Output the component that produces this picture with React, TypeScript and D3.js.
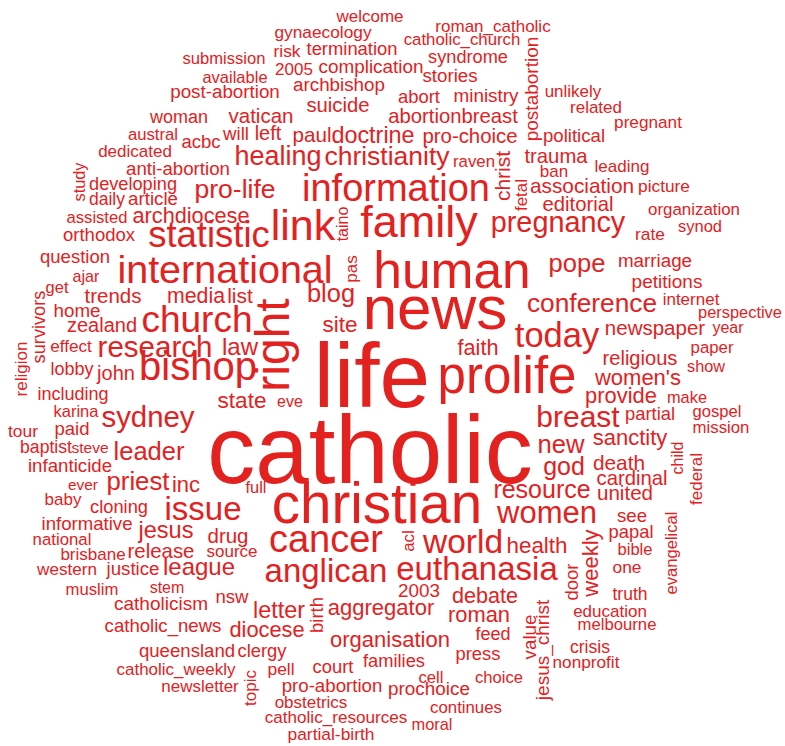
import React from "react";
import * as d3 from "d3";

// word frequencies (relative weight)
const words: [string, number][] = [
  ["welcome", 17], ["roman_catholic", 17], ["gynaecology", 17.3], ["catholic_church", 16.8], ["risk", 17.4],
  ["termination", 18.4], ["submission", 16.6], ["syndrome", 18.2], ["2005", 17], ["complication", 18.9],
  ["available", 16.5], ["stories", 18.7], ["post-abortion", 18.8], ["archbishop", 18.8], ["postabortion", 19],
  ["abort", 18.4], ["ministry", 18.9], ["unlikely", 17], ["suicide", 20.3], ["woman", 18],
  ["vatican", 20.5], ["abortionbreast", 20.3], ["related", 17], ["pregnant", 17.2], ["austral", 16.7],
  ["will", 18.7], ["left", 20], ["acbc", 18.5], ["paul", 20.6], ["doctrine", 23.4],
  ["pro-choice", 20.4], ["political", 18.6], ["dedicated", 17], ["healing", 27], ["christianity", 26.5],
  ["raven", 16.8], ["christ", 21], ["trauma", 20.3], ["leading", 17], ["ban", 17],
  ["anti-abortion", 18.7], ["fetal", 17], ["study", 16.3], ["developing", 18.2], ["pro-life", 26.5],
  ["information", 38], ["association", 20.8], ["picture", 17.3], ["daily", 17.5], ["article", 18.7],
  ["editorial", 20.3], ["organization", 16.9], ["assisted", 16.6], ["archdiocese", 21.7], ["taino", 16],
  ["link", 43], ["family", 45], ["pregnancy", 28.8], ["synod", 16.5], ["rate", 17.4],
  ["orthodox", 18.5], ["statistic", 36.5], ["question", 18.5], ["international", 39.5], ["pas", 17],
  ["human", 51.5], ["pope", 25.6], ["marriage", 18.8], ["ajar", 16.2], ["petitions", 19],
  ["get", 16.5], ["trends", 20.5], ["media", 21.3], ["list", 21], ["blog", 25.4],
  ["internet", 17], ["conference", 26.3], ["survivors", 18.2], ["home", 18.8], ["perspective", 16.4],
  ["right", 48], ["news", 62], ["zealand", 20], ["church", 37], ["site", 22.5],
  ["newspaper", 20.5], ["year", 16], ["today", 34.5], ["effect", 17.2], ["research", 29.5],
  ["law", 24], ["faith", 21.7], ["paper", 16.8], ["religion", 17], ["religious", 20.1],
  ["show", 16.3], ["lobby", 18], ["john", 20], ["bishop", 40], ["women's", 22],
  ["prolife", 51], ["including", 18], ["life", 91], ["eve", 16], ["state", 22.6],
  ["provide", 21.9], ["make", 16.4], ["karina", 16.5], ["partial", 18.4], ["gospel", 16.6],
  ["breast", 30], ["sydney", 29.4], ["tour", 17.4], ["paid", 18.5], ["mission", 16.8],
  ["sanctity", 22], ["baptist", 17.6], ["steve", 15.5], ["new", 25.6], ["child", 16],
  ["leader", 25.5], ["infanticide", 18.7], ["death", 20.8], ["god", 25], ["catholic", 96],
  ["federal", 17], ["cardinal", 20.3], ["ever", 15.4], ["priest", 25.8], ["inc", 22],
  ["full", 16.4], ["resource", 25], ["united", 20.6], ["baby", 17], ["cloning", 18.3],
  ["issue", 33], ["see", 18.6], ["christian", 56.5], ["women", 31], ["informative", 18.6],
  ["jesus", 23.6], ["papal", 18.4], ["acl", 17], ["national", 16.8], ["drug", 20.5],
  ["cancer", 38], ["world", 33.5], ["health", 22.4], ["evangelical", 16.6], ["bible", 16.6],
  ["weekly", 22], ["brisbane", 17], ["release", 20.4], ["source", 17], ["one", 17.4],
  ["western", 17.1], ["justice", 18.7], ["league", 24], ["anglican", 33], ["euthanasia", 33],
  ["door", 18.5], ["muslim", 16.7], ["stem", 16], ["2003", 18.9], ["truth", 17.5],
  ["nsw", 18.6], ["debate", 21.6], ["catholicism", 19], ["birth", 18.5], ["aggregator", 22],
  ["letter", 23.4], ["roman", 21.9], ["education", 17], ["value", 18.8], ["catholic_news", 18.6],
  ["melbourne", 16.7], ["diocese", 21.8], ["feed", 18], ["organisation", 22], ["jesus_christ", 19],
  ["crisis", 17.6], ["queensland", 18.6], ["clergy", 18.4], ["press", 18.4], ["families", 18.3],
  ["nonprofit", 17.2], ["pell", 17.4], ["court", 18.4], ["catholic_weekly", 17], ["cell", 16.7],
  ["choice", 16.6], ["topic", 17], ["newsletter", 17], ["pro-abortion", 18.7], ["prochoice", 18.9],
  ["obstetrics", 17], ["continues", 16.8], ["catholic_resources", 17.1], ["moral", 16.4], ["partial-birth", 17.4],
];

// cloud layout: [anchor x, anchor y, vertical?] in reference layout units
const placements: Record<string, [number, number, number]> = {
  welcome: [370, 22, 0], roman_catholic: [493, 32, 0], gynaecology: [323, 38, 0], catholic_church: [462, 45, 0],
  risk: [287, 57, 0], termination: [352, 55, 0], submission: [224, 64, 0], syndrome: [468, 63, 0],
  "2005": [294, 75, 0], complication: [371, 73, 0], available: [235, 83, 0], stories: [450, 82, 0],
  "post-abortion": [225, 98, 0], archbishop: [339, 91, 0], postabortion: [538, 89, 1], abort: [419, 103, 0],
  ministry: [486, 102, 0], unlikely: [573, 97, 0], suicide: [338, 112, 0], woman: [179, 123, 0],
  vatican: [261, 123, 0], abortionbreast: [453, 123, 0], related: [596, 113, 0], pregnant: [648, 128, 0],
  austral: [153, 140, 0], will: [236, 140, 0], left: [268, 140, 0], acbc: [201, 148, 0],
  paul: [312, 142, 0], doctrine: [373, 143, 0], "pro-choice": [470, 143, 0], political: [574, 142, 0],
  dedicated: [135, 157, 0], healing: [278, 165, 0], christianity: [387, 165, 0], raven: [474, 167, 0],
  christ: [510, 176, 1], trauma: [556, 163, 0], leading: [622, 172, 0], ban: [554, 177, 0],
  "anti-abortion": [178, 175, 0], fetal: [527, 195, 1], study: [85, 182, 1], developing: [133, 190, 0],
  "pro-life": [235, 198, 0], information: [396, 201, 0], association: [582, 193, 0], picture: [664, 192, 0],
  daily: [107, 205, 0], article: [153, 205, 0], editorial: [578, 211, 0], organization: [694, 215, 0],
  assisted: [97, 223, 0], archdiocese: [191, 223, 0], taino: [348, 224, 1], link: [303, 240, 0],
  family: [419, 237, 0], pregnancy: [558, 232, 0], synod: [700, 232, 0], rate: [650, 240, 0],
  orthodox: [99, 241, 0], statistic: [209, 247, 0], question: [75, 263, 0], international: [225, 283, 0],
  pas: [357, 269, 1], human: [452, 288, 0], pope: [577, 272, 0], marriage: [655, 267, 0],
  ajar: [86, 282, 0], petitions: [667, 288, 0], get: [57, 293, 0], trends: [113, 303, 0],
  media: [196, 303, 0], list: [240, 303, 0], blog: [331, 302, 0], internet: [691, 305, 0],
  conference: [592, 312, 0], survivors: [45, 327, 1], home: [77, 317, 0], perspective: [740, 318, 0],
  right: [289, 345, 1], news: [435, 329, 0], zealand: [102, 332, 0], church: [197, 332, 0],
  site: [340, 332, 0], newspaper: [655, 335, 0], year: [728, 333, 0], today: [557, 347, 0],
  effect: [71, 352, 0], research: [155, 357, 0], law: [240, 355, 0], faith: [478, 355, 0],
  paper: [712, 353, 0], religion: [27, 369, 1], religious: [640, 365, 0], show: [706, 372, 0],
  lobby: [72, 375, 0], john: [116, 380, 0], bishop: [198, 380, 0], "women's": [638, 385, 0],
  prolife: [507, 393, 0], including: [73, 400, 0], life: [372, 407, 0], eve: [290, 407, 0],
  state: [242, 408, 0], provide: [621, 403, 0], make: [687, 403, 0], karina: [76, 417, 0],
  partial: [650, 420, 0], gospel: [717, 417, 0], breast: [578, 427, 0], sydney: [148, 427, 0],
  tour: [23, 437, 0], paid: [72, 435, 0], mission: [721, 433, 0], sanctity: [630, 445, 0],
  baptist: [46, 453, 0], steve: [90, 453, 0], new: [561, 453, 0], child: [683, 458, 1],
  leader: [149, 460, 0], infanticide: [70, 472, 0], death: [619, 470, 0], god: [564, 475, 0],
  catholic: [370, 483, 0], federal: [702, 479, 1], cardinal: [632, 485, 0], ever: [83, 490, 0],
  priest: [138, 490, 0], inc: [186, 492, 0], full: [256, 493, 0], resource: [542, 498, 0],
  united: [625, 500, 0], baby: [63, 505, 0], cloning: [119, 513, 0], issue: [203, 520, 0],
  see: [632, 522, 0], christian: [377, 523, 0], women: [547, 523, 0], informative: [87, 530, 0],
  jesus: [166, 538, 0], papal: [631, 538, 0], acl: [414, 541, 1], national: [62, 545, 0],
  drug: [228, 543, 0], cancer: [326, 552, 0], world: [463, 553, 0], health: [537, 553, 0],
  evangelical: [677, 553, 1], bible: [635, 555, 0], weekly: [598, 563, 1], brisbane: [93, 560, 0],
  release: [161, 558, 0], source: [232, 557, 0], one: [627, 573, 0], western: [67, 575, 0],
  justice: [133, 575, 0], league: [199, 575, 0], anglican: [326, 582, 0], euthanasia: [477, 580, 0],
  door: [578, 582, 1], muslim: [92, 595, 0], stem: [167, 593, 0], "2003": [419, 597, 0],
  truth: [630, 600, 0], nsw: [232, 603, 0], debate: [485, 603, 0], catholicism: [161, 610, 0],
  birth: [323, 615, 1], aggregator: [381, 615, 0], letter: [279, 618, 0], roman: [479, 622, 0],
  education: [610, 617, 0], value: [536, 637, 1], catholic_news: [163, 632, 0], melbourne: [617, 630, 0],
  diocese: [267, 637, 0], feed: [493, 640, 0], organisation: [390, 647, 0], jesus_christ: [549, 650, 1],
  crisis: [590, 653, 0], queensland: [187, 657, 0], clergy: [262, 657, 0], press: [478, 660, 0],
  families: [394, 667, 0], nonprofit: [586, 668, 0], pell: [281, 675, 0], court: [333, 673, 0],
  catholic_weekly: [176, 675, 0], cell: [431, 683, 0], choice: [499, 683, 0], topic: [256, 688, 1],
  newsletter: [200, 692, 0], "pro-abortion": [332, 692, 0], prochoice: [429, 695, 0], obstetrics: [311, 708, 0],
  continues: [466, 713, 0], catholic_resources: [336, 723, 0], moral: [432, 730, 0], "partial-birth": [331, 740, 0],
};

const WIDTH = 785;
const HEIGHT = 746;
const COLOR = "#e3211e";

export default function App() {
  const x = d3.scaleLinear().domain([0, 785]).range([0, WIDTH]);
  const y = d3.scaleLinear().domain([0, 746]).range([0, HEIGHT]);
  const fontSize = d3.scaleLinear().domain([0, 100]).range([0, 100]);

  return (
    <svg
      width={WIDTH}
      height={HEIGHT}
      style={{ position: "fixed", left: 0, top: 0, background: "#ffffff", display: "block" }}
      fontFamily="'Liberation Sans', Arial, Helvetica, sans-serif"
    >
      <rect width={WIDTH} height={HEIGHT} fill="#ffffff" />
      {words.map(([text, w]) => {
        const p = placements[text];
        if (!p) return null;
        const [px, py, vert] = p;
        const transform = vert
          ? `translate(${x(px)},${y(py)}) rotate(-90)`
          : `translate(${x(px)},${y(py)})`;
        return (
          <text
            key={text}
            transform={transform}
            textAnchor="middle"
            fontSize={fontSize(w)}
            fill={COLOR}
          >
            {text}
          </text>
        );
      })}
    </svg>
  );
}
